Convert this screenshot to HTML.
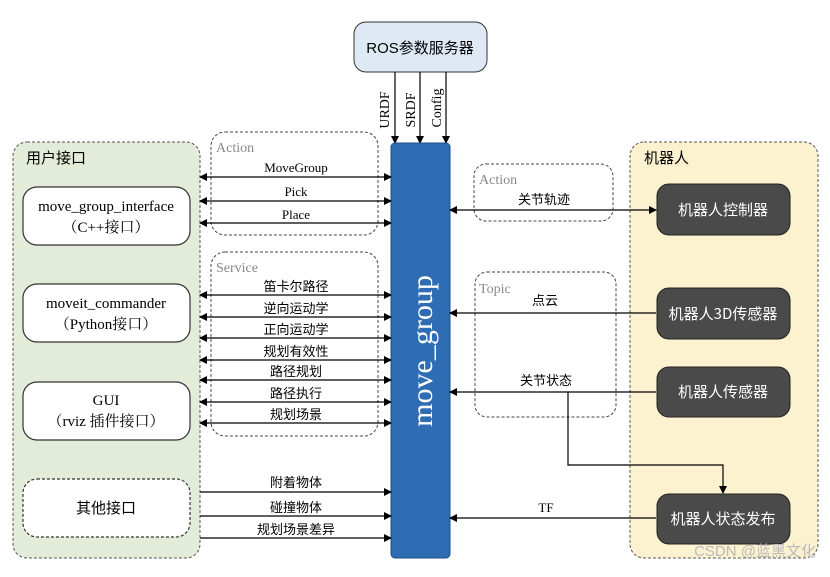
<!DOCTYPE html><html><head><meta charset="utf-8"><style>body{margin:0;background:#fff}</style></head><body>
<svg width="830" height="572" viewBox="0 0 830 572" xmlns="http://www.w3.org/2000/svg" font-family="Liberation Serif, Noto Serif CJK SC, serif">
<defs>
<marker id="a" markerWidth="8" markerHeight="8" refX="7" refY="4" orient="auto" markerUnits="userSpaceOnUse"><path d="M0,0 L8,4 L0,8 Z" fill="#000"/></marker>
<marker id="b" markerWidth="8" markerHeight="8" refX="1" refY="4" orient="auto" markerUnits="userSpaceOnUse"><path d="M8,0 L0,4 L8,8 Z" fill="#000"/></marker>
</defs>
<rect x="13" y="142" width="187" height="416" rx="14" fill="#e2ecd8" stroke="#555" stroke-dasharray="3,2"/>
<text x="26" y="163" font-size="15" font-family="Noto Sans CJK SC, sans-serif">用户接口</text>
<g fill="#fff" stroke="#333" stroke-width="1.2">
<rect x="23" y="187" width="167" height="58" rx="14"/><rect x="23" y="284" width="167" height="58" rx="14"/><rect x="23" y="382" width="167" height="58" rx="14"/><rect x="23" y="479" width="167" height="58" rx="14" stroke-dasharray="3,2"/></g>
<g font-size="15" text-anchor="middle">
<text x="106" y="211">move_group_interface</text><text x="106" y="232">（C++接口）</text>
<text x="106" y="308">moveit_commander</text><text x="106" y="329">（Python接口）</text>
<text x="106" y="405">GUI</text><text x="106" y="426">（rviz 插件接口）</text>
<text x="106" y="513" font-family="Noto Sans CJK SC, sans-serif">其他接口</text></g>
<rect x="630" y="142" width="188" height="416" rx="14" fill="#fdf2cf" stroke="#555" stroke-dasharray="3,2"/>
<text x="644" y="163" font-size="15" font-family="Noto Sans CJK SC, sans-serif">机器人</text>
<g fill="#4a4a4a" stroke="#222"><rect x="657" y="184" width="133" height="51" rx="12"/><rect x="657" y="288" width="133" height="51" rx="12"/><rect x="657" y="367" width="133" height="50" rx="12"/><rect x="657" y="494" width="133" height="50" rx="12"/></g>
<g fill="#fff" font-size="15" text-anchor="middle" font-family="Noto Sans CJK SC, sans-serif">
<text x="723" y="215">机器人控制器</text><text x="723" y="319">机器人3D传感器</text><text x="723" y="397">机器人传感器</text><text x="723" y="524">机器人状态发布</text></g>
<g fill="none" stroke="#444" stroke-dasharray="3,2"><rect x="211" y="132" width="167" height="103" rx="14"/><rect x="211" y="252" width="167" height="184" rx="14"/><rect x="474" y="164" width="139" height="57" rx="12"/><rect x="475" y="272" width="141" height="145" rx="12"/></g>
<g fill="#888" font-size="14"><text x="216" y="152">Action</text><text x="216" y="272">Service</text><text x="479" y="184">Action</text><text x="479" y="293">Topic</text></g>
<rect x="354" y="22" width="133" height="50" rx="12" fill="#dfe9f5" stroke="#333"/>
<text x="420" y="53" font-size="15" text-anchor="middle" font-family="Liberation Sans, Noto Sans CJK SC, sans-serif">ROS参数服务器</text>
<g stroke="#000" stroke-width="1.2" marker-end="url(#a)"><line x1="395" y1="72" x2="395" y2="143"/><line x1="420" y1="72" x2="420" y2="143"/><line x1="446" y1="72" x2="446" y2="143"/></g>
<g font-size="14" text-anchor="middle"><text transform="translate(389,110) rotate(-90)">URDF</text><text transform="translate(415,110) rotate(-90)">SRDF</text><text transform="translate(441,108) rotate(-90)">Config</text></g>
<rect x="391" y="143" width="59" height="415" rx="4" fill="#2e6db4" stroke="#1d4e86"/>
<text transform="translate(432,351) rotate(-90)" font-size="30" fill="#fff" text-anchor="middle">move_group</text>
<g stroke="#000" stroke-width="1.2" marker-end="url(#a)" marker-start="url(#b)">
<line x1="200" y1="177" x2="391" y2="177"/><line x1="200" y1="201" x2="391" y2="201"/><line x1="200" y1="223" x2="391" y2="223"/>
<line x1="200" y1="295" x2="391" y2="295"/><line x1="200" y1="317" x2="391" y2="317"/><line x1="200" y1="338" x2="391" y2="338"/><line x1="200" y1="360" x2="391" y2="360"/><line x1="200" y1="380" x2="391" y2="380"/><line x1="200" y1="402" x2="391" y2="402"/><line x1="200" y1="423" x2="391" y2="423"/>
<line x1="450" y1="210" x2="656" y2="210"/></g>
<g stroke="#000" stroke-width="1.2" marker-end="url(#a)">
<line x1="200" y1="492" x2="391" y2="492"/><line x1="200" y1="516" x2="391" y2="516"/><line x1="200" y1="538" x2="391" y2="538"/>
<line x1="656" y1="313" x2="450" y2="313"/><line x1="656" y1="392" x2="450" y2="392"/><line x1="656" y1="518" x2="450" y2="518"/>
<polyline points="568,392 568,465 723,465 723,493" fill="none"/></g>
<g font-size="13" text-anchor="middle" font-family="Liberation Serif, Noto Sans CJK SC, serif">
<text x="296" y="172">MoveGroup</text><text x="296" y="196">Pick</text><text x="296" y="219">Place</text>
<text x="296" y="291">笛卡尔路径</text><text x="296" y="313">逆向运动学</text><text x="296" y="334">正向运动学</text><text x="296" y="356">规划有效性</text><text x="296" y="376">路径规划</text><text x="296" y="398">路径执行</text><text x="296" y="419">规划场景</text>
<text x="296" y="487">附着物体</text><text x="296" y="512">碰撞物体</text><text x="296" y="534">规划场景差异</text>
<text x="544" y="204">关节轨迹</text><text x="545" y="305">点云</text><text x="546" y="385">关节状态</text><text x="546" y="512">TF</text></g>
<text x="816" y="556" font-size="15" fill="#bbb" text-anchor="end" font-family="Liberation Sans, Noto Sans CJK SC, sans-serif">CSDN @蓝黑文化</text>
</svg></body></html>
